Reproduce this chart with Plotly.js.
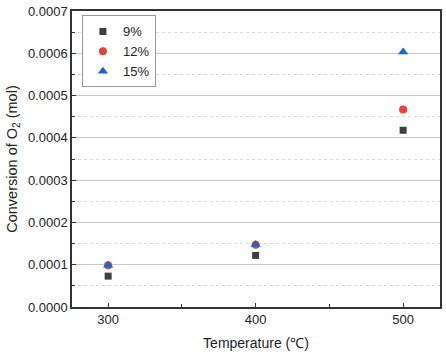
<!DOCTYPE html>
<html><head><meta charset="utf-8">
<script src="https://cdn.plot.ly/plotly-3.0.1.min.js"></script>
<style>html,body{margin:0;padding:0;background:#fff}#c{width:446px;height:355px}</style>
</head><body><div id="c"></div>
<script>
const temps = [300, 400, 500];
const series9 = [0.000073, 0.000122, 0.000418];
const series12 = [0.0000985, 0.000147, 0.000467];
const series15 = [0.0000985, 0.000148, 0.000603];
const names = ['9%', '12%', '15%'];
const minorY = [0.00005, 0.00015, 0.00025, 0.00035, 0.00045, 0.00055, 0.00065];

const traces = [
  {x: temps, y: series9, name: names[0], mode: 'markers', type: 'scatter',
   marker: {symbol: 'square', size: 7, color: '#3f3f3f'}},
  {x: temps, y: series12, name: names[1], mode: 'markers', type: 'scatter',
   marker: {symbol: 'circle', size: 8, color: '#e8403a'}},
  {x: temps, y: series15, name: names[2], mode: 'markers', type: 'scatter',
   marker: {symbol: 'triangle-up', size: 9, color: '#1f64cc'}}
];

const layout = {
  width: 446, height: 355,
  margin: {l: 72, r: 6, t: 11, b: 48},
  paper_bgcolor: '#fff', plot_bgcolor: '#fff',
  font: {family: 'Arial, Liberation Sans, sans-serif', size: 12, color: '#222'},
  showlegend: true,
  legend: {x: 0.027, y: 0.985, xanchor: 'left', yanchor: 'top',
    bordercolor: '#999', borderwidth: 1, bgcolor: '#fff',
    font: {size: 13, color: '#222'}, itemwidth: 30, tracegroupgap: 0},
  xaxis: {
    range: [275.5, 525], tickvals: [300, 400, 500], ticktext: ['300','400','500'],
    ticks: 'inside', ticklen: 4, tickcolor: '#333', showgrid: false, zeroline: false,
    showline: true, mirror: true, linecolor: '#333', linewidth: 1.5,
    minor: {tickvals: [350, 450], ticks: 'inside', ticklen: 3, tickcolor: '#333', showgrid: false},
    tickfont: {size: 13, color: '#222'},
    title: {text: 'Temperature (℃)', font: {size: 14, color: '#222'}, standoff: 12}
  },
  yaxis: {
    range: [0, 0.0007], dtick: 0.0001, tickformat: '.4f',
    ticks: 'inside', ticklen: 4, tickcolor: '#333',
    showgrid: true, gridcolor: '#c8c8c8', gridwidth: 1, griddash: 'solid', zeroline: false,
    showline: true, mirror: true, linecolor: '#333', linewidth: 1.5,
    minor: {tickvals: minorY, ticks: 'inside', ticklen: 3, tickcolor: '#333', showgrid: true, gridcolor: '#d8d8d8', griddash: 'dot', gridwidth: 1},
    tickfont: {size: 13, color: '#222'},
    title: {text: 'Conversion of O<sub>2</sub> (mol)', font: {size: 14.5, color: '#222'}, standoff: 7}
  }
};
Plotly.newPlot('c', traces, layout, {displayModeBar: false});
</script></body></html>
